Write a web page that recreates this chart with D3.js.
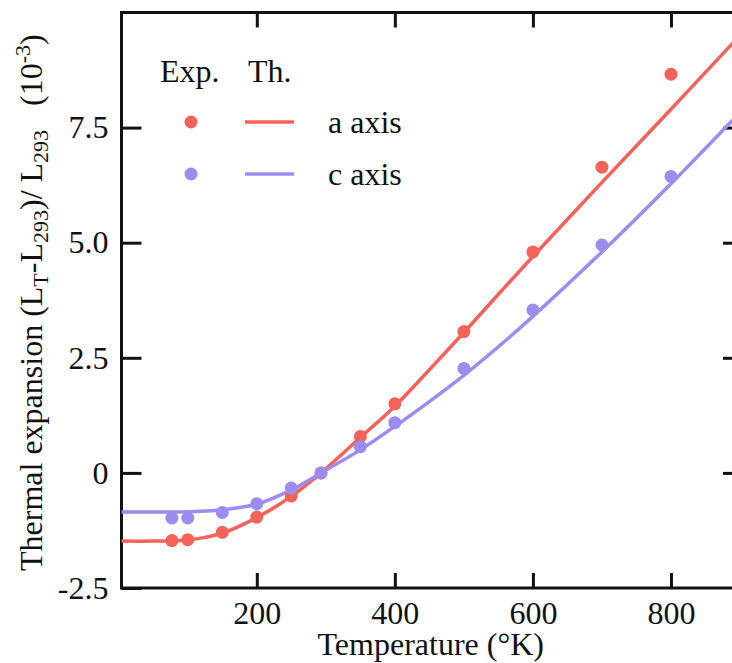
<!DOCTYPE html>
<html lang="en">
<head>
    <meta charset="UTF-8">
    <title>Thermal expansion</title>
    <script src="https://d3js.org/d3.v7.min.js"></script>
    <style>
        body { margin: 0; background: #fff; }
        svg text {
            font-family: "Liberation Serif", "Times New Roman", Times, "DejaVu Serif", serif;
            font-size: 32px;
            fill: #111;
        }
        .axis line { stroke: #111; stroke-width: 3px; }
        .axis path { display: none; }
        .line { fill: none; stroke-width: 3.5px; }
    </style>
</head>
<body>
    <svg width="732" height="663"></svg>

    <script>
        // experimental points
        const expTemps = [77, 100, 150, 200, 250, 293, 350, 400, 500, 600, 700, 800];
        const expA = [-1.47, -1.45, -1.29, -0.96, -0.50, 0, 0.79, 1.50, 3.07, 4.80, 6.64, 8.66];
        const expC = [-0.98, -0.98, -0.86, -0.67, -0.33, 0, 0.57, 1.09, 2.27, 3.54, 4.95, 6.44];

        // theory curves
        const thTemps = [4, 50, 100, 125, 150, 200, 250, 293, 350, 400, 450, 500, 550, 600, 700, 800, 900];
        const thA = [-1.48, -1.48, -1.455, -1.40, -1.31, -0.97, -0.51, 0, 0.77, 1.45, 2.24, 3.05, 3.88, 4.70, 6.31, 7.90, 9.50];
        const thC = [-0.85, -0.85, -0.845, -0.83, -0.80, -0.68, -0.37, 0, 0.50, 1.01, 1.55, 2.12, 2.74, 3.40, 4.80, 6.28, 7.83];

        const seriesNames = ["a axis", "c axis"];
        const seriesColors = ["#f4625a", "#9c8cf0"];

        const xTicks = [200, 400, 600, 800];
        const yTicks = [-2.5, 0, 2.5, 5.0, 7.5];
        const yTickLabels = ["-2.5", "0", "2.5", "5.0", "7.5"];

        const plot = { left: 121.5, right: 740, top: 12.5, bottom: 588 };

        const svg = d3.select("svg");

        const x = d3.scaleLinear().domain([4, 900]).range([plot.left, plot.right]);
        const y = d3.scaleLinear().domain([-2.5, 10]).range([plot.bottom, plot.top]);

        // axes with inward ticks
        svg.append("g")
            .attr("class", "axis")
            .attr("transform", `translate(0,${plot.bottom})`)
            .call(d3.axisBottom(x).tickValues(xTicks).tickSizeInner(-15).tickSizeOuter(0).tickPadding(13));

        svg.append("g")
            .attr("class", "axis")
            .attr("transform", `translate(0,${plot.top})`)
            .call(d3.axisTop(x).tickValues(xTicks).tickSizeInner(-15).tickSizeOuter(0).tickFormat(""));

        svg.append("g")
            .attr("class", "axis")
            .attr("transform", `translate(${plot.left},0)`)
            .call(d3.axisLeft(y).tickValues(yTicks).tickSizeInner(-20).tickSizeOuter(0).tickPadding(13)
                .tickFormat((d, i) => yTickLabels[i]));

        svg.append("g")
            .attr("class", "axis")
            .attr("transform", `translate(${plot.right},0)`)
            .call(d3.axisRight(y).tickValues(yTicks.slice(1)).tickSizeInner(-17).tickSizeOuter(0).tickFormat(""));

        // d3 axes set their own font attributes on the group, drop them so the css applies
        svg.selectAll(".axis").attr("font-family", null).attr("font-size", null);
        svg.selectAll(".axis text").style("fill", "#111");

        // frame
        svg.append("rect")
            .attr("x", plot.left).attr("y", plot.top)
            .attr("width", plot.right - plot.left).attr("height", plot.bottom - plot.top)
            .attr("fill", "none").attr("stroke", "#111").attr("stroke-width", 3);

        // theory lines
        const line = d3.line()
            .x(d => x(d[0]))
            .y(d => y(d[1]))
            .curve(d3.curveCatmullRom.alpha(0.5));

        [thA, thC].forEach((vals, i) => {
            svg.append("path")
                .datum(thTemps.map((t, j) => [t, vals[j]]))
                .attr("class", "line")
                .attr("stroke", seriesColors[i])
                .attr("d", line);
        });

        // experimental dots
        [expA, expC].forEach((vals, i) => {
            svg.append("g")
                .selectAll("circle")
                .data(expTemps.map((t, j) => [t, vals[j]]))
                .join("circle")
                .attr("cx", d => x(d[0]))
                .attr("cy", d => y(d[1]))
                .attr("r", 6.5)
                .attr("fill", seriesColors[i]);
        });

        // legend
        const legend = svg.append("g");
        legend.append("text").attr("x", 160).attr("y", 82).text("Exp.");
        legend.append("text").attr("x", 248).attr("y", 82).text("Th.");
        seriesNames.forEach((name, i) => {
            const ly = 122 + i * 52;
            legend.append("circle").attr("cx", 191).attr("cy", ly).attr("r", 6.5).attr("fill", seriesColors[i]);
            legend.append("line").attr("x1", 245).attr("x2", 294).attr("y1", ly).attr("y2", ly)
                .attr("stroke", seriesColors[i]).attr("stroke-width", 3.5);
            legend.append("text").attr("x", 328).attr("y", ly + 11).text(name);
        });

        // axis titles
        svg.append("text")
            .attr("x", (plot.left + plot.right) / 2)
            .attr("y", 655)
            .attr("text-anchor", "middle")
            .text("Temperature (°K)");

        const yTitle = svg.append("text")
            .attr("transform", "translate(42,571) rotate(-90)");
        yTitle.append("tspan").text("Thermal expansion (L");
        yTitle.append("tspan").attr("baseline-shift", "-25%").style("font-size", "22px").text("T");
        yTitle.append("tspan").text("-L");
        yTitle.append("tspan").attr("baseline-shift", "-25%").style("font-size", "22px").text("293");
        yTitle.append("tspan").text(")/ L");
        yTitle.append("tspan").attr("baseline-shift", "-25%").style("font-size", "22px").text("293");
        yTitle.append("tspan").attr("xml:space", "preserve").text("   (10");
        yTitle.append("tspan").attr("baseline-shift", "55%").style("font-size", "22px").text("-3");
        yTitle.append("tspan").text(")");
    </script>
</body>
</html>
